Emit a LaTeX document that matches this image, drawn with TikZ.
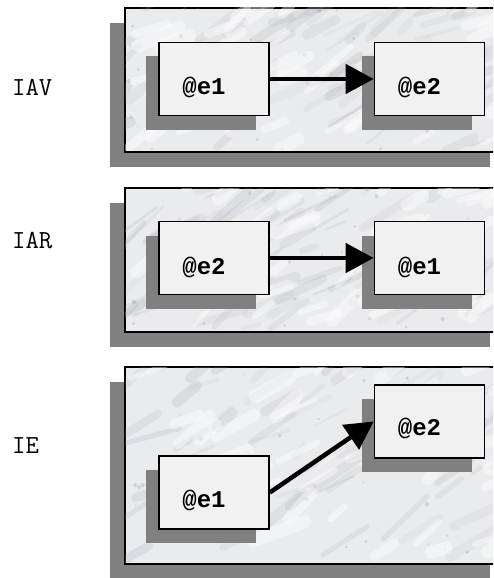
\documentclass[tikz,border=0pt]{standalone}
\usepackage{fontspec}
\newfontfamily\entityfont{Liberation Mono}
\usetikzlibrary{arrows.meta,shadows}

\definecolor{marble}{HTML}{EAEBEF}
\definecolor{vein}{HTML}{A9AAAF}
\definecolor{granite}{HTML}{F1F1F1}
\definecolor{shade}{HTML}{808080}

\tikzset{
  panel/.style={draw=black, line width=2pt, fill=marble, anchor=north west,
    minimum width=380pt, inner sep=0pt,
    general shadow={fill=shade, shadow xshift=-15pt, shadow yshift=-15pt}},
  entity/.style={draw=black, line width=1.6pt, fill=granite,
    minimum width=110pt, minimum height=73pt, inner sep=0pt,
    general shadow={fill=shade, shadow xshift=-13pt, shadow yshift=-14pt}},
  entitytext/.style={font=\entityfont\bfseries\fontsize{24}{26}\selectfont, inner sep=0pt},
  kind/.style={font=\ttfamily\fontsize{26}{28}\selectfont, anchor=west, inner sep=0pt},
  flow/.style={line width=4.5pt, -{Triangle[length=28pt,width=29pt]}},
}

% soft, streaky marble surface inside a panel
\newcommand\marbleveins[5]{% x0, y0, width, height, seed
  \begin{scope}
    \clip (#1+1,#2+1) rectangle (#1+#3-1,#2+#4-1);
    \pgfmathsetseed{#5}
    \foreach \k in {1,...,75}{
      \pgfmathsetmacro\px{#1-20+(#3+20)*rnd}
      \pgfmathsetmacro\py{#2+#4*rnd}
      \pgfmathsetmacro\ln{12+50*rnd}
      \pgfmathsetmacro\an{15+35*rnd}
      \pgfmathsetmacro\wd{2+9*rnd}
      \pgfmathsetmacro\op{0.07+0.15*rnd}
      \draw[vein, line cap=round, line width=\wd pt, opacity=\op]
        (\px,\py) -- ++({\ln*cos(\an)},{-\ln*sin(\an)});
    }
    \foreach \k in {1,...,30}{
      \pgfmathsetmacro\px{#1+#3*rnd}
      \pgfmathsetmacro\py{#2+#4*rnd}
      \pgfmathsetmacro\rd{0.8+1.5*rnd}
      \fill[vein!80!black, opacity=0.25] (\px,\py) circle[radius=\rd pt];
    }
    \foreach \k in {1,...,45}{
      \pgfmathsetmacro\px{#1+#3*rnd}
      \pgfmathsetmacro\py{#2+#4*rnd}
      \pgfmathsetmacro\ln{15+40*rnd}
      \pgfmathsetmacro\an{15+35*rnd}
      \pgfmathsetmacro\wd{4+10*rnd}
      \draw[white, line cap=round, line width=\wd pt, opacity=0.4]
        (\px,\py) -- ++({\ln*cos(\an)},{-\ln*sin(\an)});
    }
  \end{scope}}

\begin{document}
\begin{tikzpicture}[x=1pt, y=-1pt]
  \useasboundingbox (0,0) rectangle (493,578);
  \clip (0,0) rectangle (493,578);

  % ---- IAV ----
  \node[kind] (kav) at (12,87.5) {IAV};
  \node[panel, minimum height=144pt] (pav) at (124,7) {};
  \marbleveins{124}{7}{380}{144}{11}
  \node[entity] (av1) at (214,79) {};
  \node[entity] (av2) at (429.5,79) {};
  \node[entitytext, xshift=-10pt, yshift=-8.5pt] (tav1) at (av1.center) {@e1};
  \node[entitytext, xshift=-10pt, yshift=-8.5pt] (tav2) at (av2.center) {@e2};
  \draw[flow] (av1.east) -- (av2.west);

  % ---- IAR ----
  \node[kind] (kar) at (12,240.5) {IAR};
  \node[panel, minimum height=144pt] (par) at (124,187) {};
  \marbleveins{124}{187}{380}{144}{23}
  \node[entity] (ar1) at (214,258) {};
  \node[entity] (ar2) at (429.5,258) {};
  \node[entitytext, xshift=-10pt, yshift=-9pt] (tar1) at (ar1.center) {@e2};
  \node[entitytext, xshift=-10pt, yshift=-9pt] (tar2) at (ar2.center) {@e1};
  \draw[flow] (ar1.east) -- (ar2.west);

  % ---- IE ----
  \node[kind] (kie) at (12,446) {IE};
  \node[panel, minimum height=197pt] (pie) at (124,366) {};
  \marbleveins{124}{366}{380}{197}{37}
  \node[entity] (ie1) at (214,492.5) {};
  \node[entity] (ie2) at (429.5,421.5) {};
  \node[entitytext, xshift=-10pt, yshift=-8pt] (tie1) at (ie1.center) {@e1};
  \node[entitytext, xshift=-10pt, yshift=-7pt] (tie2) at (ie2.center) {@e2};
  \draw[flow] (ie1.east) -- (ie2.west);
\end{tikzpicture}
\end{document}
